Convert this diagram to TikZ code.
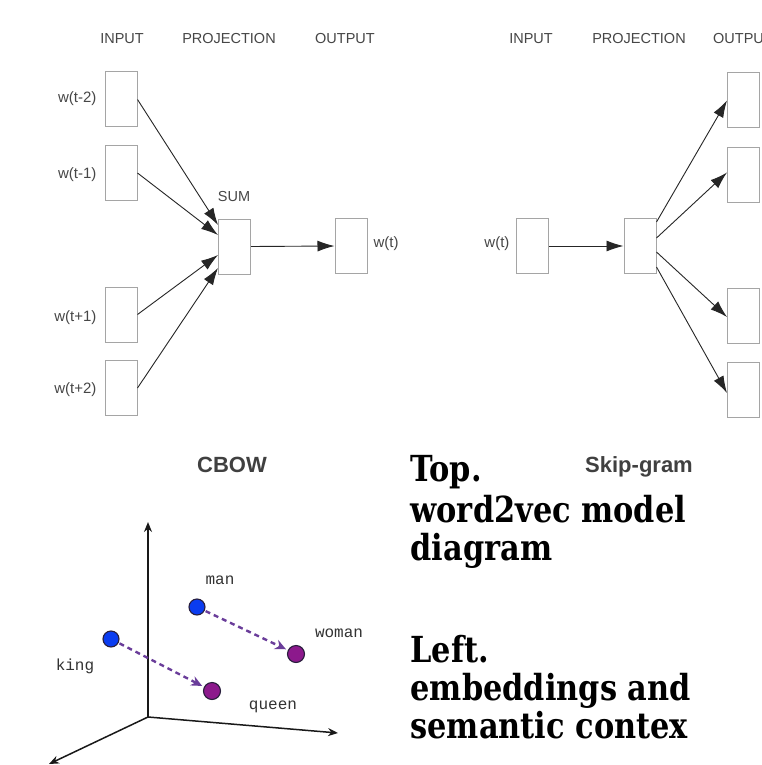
\documentclass[tikz,border=0pt]{standalone}
\usepackage{fontspec}
\usepackage{graphicx}
\setmainfont{Liberation Sans}
\newfontfamily\monofont{Liberation Mono}
\newfontfamily\capfont{DejaVu Serif}
\usetikzlibrary{arrows.meta,calc}
\definecolor{lbl}{RGB}{70,70,70}
\definecolor{boxgray}{RGB}{165,165,165}
\definecolor{dotblue}{RGB}{10,60,240}
\definecolor{dotpurple}{RGB}{140,25,140}
\definecolor{dotedge}{RGB}{40,30,60}
\definecolor{arrpurple}{RGB}{106,61,154}
\begin{document}
\begin{tikzpicture}[x=1pt,y=-1pt,
  wbox/.style={draw=boxgray, line width=1pt, minimum width=32pt, minimum height=55pt, inner sep=0pt},
  hdr/.style={font=\fontsize{14.5}{17}\selectfont, text=lbl},
  wlbl/.style={font=\fontsize{15}{18}\selectfont, text=lbl},
  conn/.style={draw=black!85, line width=0.9pt, -{Latex[length=17pt,width=11pt]}},
  ttl/.style={font=\bfseries\fontsize{22}{26}\selectfont, text=black!75},
  captxt/.style={anchor=base west, font=\capfont\bfseries\fontsize{30.4}{36}\selectfont, text=black},
  dotb/.style={circle, draw=dotedge, line width=1.1pt, fill=dotblue, minimum size=16pt, inner sep=0pt},
  dotp/.style={circle, draw=dotedge, line width=1.1pt, fill=dotpurple, minimum size=17pt, inner sep=0pt},
  wordlbl/.style={font=\monofont\fontsize{16}{18}\selectfont, text=black!80},
  axis/.style={draw=black!90, line width=1.5pt, -{Stealth[length=10pt,width=8pt]}},
  vecarr/.style={draw=arrpurple, line width=2.4pt, dash pattern=on 5pt off 4pt, -{Stealth[length=11pt,width=10pt]}, shorten >=2pt, shorten <=1pt}
]
\clip (0,0) rectangle (762,765);
\fill[white] (0,0) rectangle (762,765);

% ---------- CBOW ----------
\node[hdr] (hin) at (122,39) {INPUT};
\node[hdr] (hpr) at (229,39) {PROJECTION};
\node[hdr] (hout) at (345,39) {OUTPUT};

\node[wbox] (in1) at (121,99.5) {};
\node[wbox] (in2) at (121,173) {};
\node[wbox] (in3) at (121,314.5) {};
\node[wbox] (in4) at (121,388) {};
\node[wlbl, anchor=east] (l1) at (100,99) {w(t-2)};
\node[wlbl, anchor=east] (l2) at (100,175) {w(t-1)};
\node[wlbl, anchor=east] (l3) at (100,318) {w(t+1)};
\node[wlbl, anchor=east] (l4) at (100,390) {w(t+2)};

\node[wbox] (sum) at (234.5,246.5) {};
\node[hdr] (sumlbl) at (234,197) {SUM};
\node[wbox] (out) at (351,246) {};
\node[wlbl, anchor=west] (outlbl) at (370,244) {w(t)};

\draw[conn] (in1.east) -- ([yshift=21.5pt]sum.west);
\draw[conn] (in2.east) -- ([yshift=11.5pt]sum.west);
\draw[conn] (in3.east) -- ([yshift=-8.5pt]sum.west);
\draw[conn] (in4.east) -- ([yshift=-21.5pt]sum.west);
\draw[conn] (sum.east) -- (out.west);

\node[ttl] (cbow) at (232,465) {CBOW};

% ---------- Skip-gram ----------
\node[hdr] (shin) at (531,39) {INPUT};
\node[hdr] (shpr) at (639,39) {PROJECTION};
\node[hdr] (shout) at (743,39) {OUTPUT};

\node[wbox] (sin) at (532.5,246) {};
\node[wlbl, anchor=east] (sinlbl) at (513,244) {w(t)};
\node[wbox] (sproj) at (640,246) {};
\node[wbox] (so1) at (743.5,100.5) {};
\node[wbox] (so2) at (743.5,174.5) {};
\node[wbox] (so3) at (743.5,315.5) {};
\node[wbox] (so4) at (743.5,389.5) {};

\draw[conn] (sin.east) -- (sproj.west);
\draw[conn] ([yshift=24pt]sproj.east) -- (so1.west);
\draw[conn] ([yshift=8pt]sproj.east) -- ([yshift=2pt]so2.west);
\draw[conn] ([yshift=-6pt]sproj.east) -- ([yshift=-1.5pt]so3.west);
\draw[conn] ([yshift=-21pt]sproj.east) -- ([yshift=-3.5pt]so4.west);

\node[ttl] (skip) at (639,467) {Skip-gram};

% ---------- embeddings ----------
\coordinate (O) at (148,717);
\coordinate (ytop) at (148,522);
\coordinate (xr) at (338,733);
\coordinate (zl) at (49,764);
\draw[axis] (O) -- (ytop);
\draw[axis] (O) -- (xr);
\draw[axis] (O) -- (zl);

\node[dotb] (man) at (197,607) {};
\node[dotb] (king) at (111,639) {};
\node[dotp] (woman) at (296,654) {};
\node[dotp] (queen) at (212,691) {};
\draw[vecarr] (man) -- (woman);
\draw[vecarr] (king) -- (queen);

\node[wordlbl] (manl) at (220,580) {man};
\node[wordlbl] (womanl) at (339,633) {woman};
\node[wordlbl] (kingl) at (75,666) {king};
\node[wordlbl] (queenl) at (273,707) {queen};

% ---------- caption ----------
\node[captxt] (c1) at (407,481) {\scalebox{1}[1.18]{Top.}};
\node[captxt] (c2) at (407,522) {\scalebox{1}[1.18]{word2vec model}};
\node[captxt] (c3) at (407,560) {\scalebox{1}[1.18]{diagram}};
\node[captxt] (c4) at (407,662) {\scalebox{1}[1.18]{Left.}};
\node[captxt] (c5) at (407,700) {\scalebox{1}[1.18]{embeddings and}};
\node[captxt] (c6) at (407,738) {\scalebox{1}[1.18]{semantic contex}};
\end{tikzpicture}
\end{document}
